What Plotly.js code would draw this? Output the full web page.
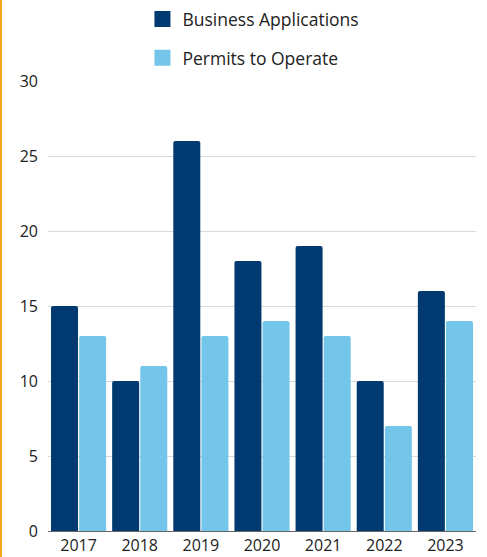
<!DOCTYPE html>
<html><head><meta charset="utf-8">
<script src="https://cdn.plot.ly/plotly-3.0.1.min.js"></script>
<style>
html,body{margin:0;padding:0;background:#fff;}
#wrap{position:absolute;left:0;top:0;width:487px;height:557px;}
#bar{position:absolute;left:0;top:0;width:2px;height:557px;background:#f7a21b;z-index:5;}
#chart{position:absolute;left:0;top:0;width:487px;height:557px;}
</style></head>
<body><div id="wrap"><div id="chart"></div><div id="bar"></div></div>
<script>
var years = ['2017','2018','2019','2020','2021','2022','2023'];
var businessApplications = [15, 10, 26, 18, 19, 10, 16];
var permitsToOperate = [13, 11, 13, 14, 13, 7, 14];
var yTicks = [0, 5, 10, 15, 20, 25, 30];
var seriesNames = ['Business Applications', 'Permits to Operate'];
var seriesColors = ['#003a70', '#73c6e9'];

var fontFam = '"Open Sans", sans-serif';
var traces = [
  {type:'bar', name:seriesNames[0], x:years, y:businessApplications,
   marker:{color:seriesColors[0], cornerradius:2}, showlegend:false, hoverinfo:'y'},
  {type:'bar', name:seriesNames[1], x:years, y:permitsToOperate,
   marker:{color:seriesColors[1], cornerradius:2}, showlegend:false, hoverinfo:'y'},
  {type:'scatter', mode:'markers', name:seriesNames[0], x:[null], y:[null], legendgroup:'a',
   marker:{symbol:'square', size:16, color:seriesColors[0]}},
  {type:'scatter', mode:'markers', name:seriesNames[1], x:[null], y:[null], legendgroup:'b',
   marker:{symbol:'square', size:16, color:seriesColors[1]}}
];
var layout = {
  width:487, height:557,
  margin:{l:48, r:11, t:81, b:26},
  paper_bgcolor:'#fff', plot_bgcolor:'#fff',
  font:{family:fontFam, color:'#222', size:16},
  barmode:'group', bargap:0.08, bargroupgap:0.04,
  showlegend:true,
  legend:{orientation:'v', x:0.48, xanchor:'center', xref:'paper', y:0.998, yref:'container', yanchor:'top',
          tracegroupgap:13, font:{size:17.5, color:'#222'}, itemwidth:30, itemsizing:'trace'},
  xaxis:{type:'category', tickvals:years, ticktext:years, showgrid:false, showline:true, linecolor:'#666', linewidth:1,
         ticks:'', tickfont:{size:16, color:'#222'}, fixedrange:true},
  yaxis:{range:[0,30], tickvals:yTicks, showgrid:true, gridcolor:'#d9d9d9', gridwidth:1, zeroline:false,
         ticks:'', tickfont:{size:16, color:'#222'}, ticklabelstandoff:9, fixedrange:true}
};
Plotly.newPlot('chart', traces, layout, {displayModeBar:false, staticPlot:true});
</script></body></html>
